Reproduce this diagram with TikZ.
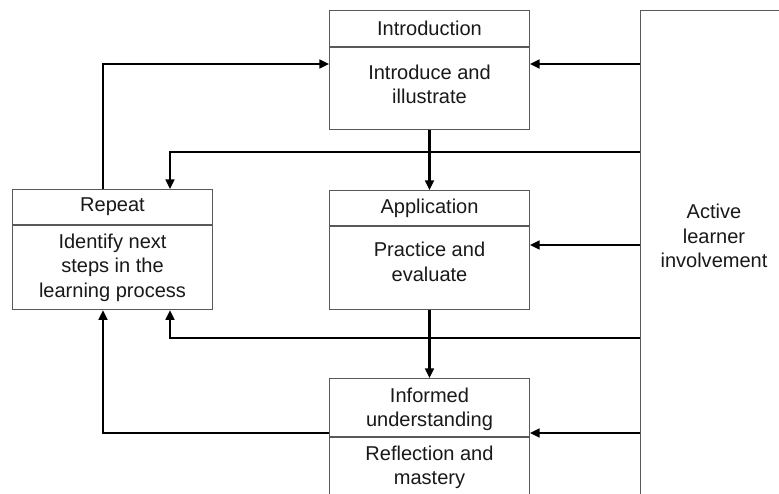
\documentclass[tikz,border=0pt]{standalone}
\usepackage{fontspec}
\setmainfont{Liberation Sans}
\usetikzlibrary{positioning,arrows.meta}

\tikzset{
  box/.style={draw=black!65, line width=0.6pt, anchor=north west, minimum width=4cm,
    inner sep=0pt, align=center, text=black!90,
    font=\fontsize{11.4}{13.9}\selectfont},
  arr/.style={line width=1.2pt, -{Triangle[length=5.5pt,width=5pt]}},
  lin/.style={line width=1.2pt}
}

\begin{document}
\begin{tikzpicture}[x=0.02cm, y=-0.02cm]

  % Frame (pixel grid of the picture)
  \clip (0,0) rectangle (779,494);
  \fill[white] (0,0) rectangle (779,494);

  % Middle column
  \node[box, minimum height=0.72cm] (introHead) at (329,10) {Introduction};
  \node[box, minimum height=1.64cm, text depth=5pt, below=0pt of introHead] (introBody) {Introduce and\\illustrate};

  \node[box, minimum height=0.7cm] (applHead) at (329,190) {Application};
  \node[box, minimum height=1.66cm, text depth=7pt, below=0pt of applHead] (applBody) {Practice and\\evaluate};

  \node[box, minimum height=1.16cm, text depth=0pt] (infoHead) at (329,378) {Informed\\understanding};
  \node[box, minimum height=1.2cm, below=0pt of infoHead] (infoBody) {Reflection and\\mastery};

  % Left box
  \node[box, minimum height=0.7cm] (repHead) at (12,189) {Repeat};
  \node[box, minimum height=1.68cm, below=0pt of repHead] (repBody) {Identify next\\steps in the\\learning process};

  % Right column
  \node[box, minimum width=2.96cm, minimum height=10cm] (active) at (640,10) {};
  \node[box, draw=none, anchor=center, minimum width=0cm] (activeText) at (714,236) {Active\\learner\\involvement};

  % Rows and columns of the connectors
  \coordinate (rowA) at (0,64);
  \coordinate (rowB) at (0,152);
  \coordinate (rowC) at (0,245);
  \coordinate (rowD) at (0,338);
  \coordinate (rowE) at (0,433);
  \coordinate (colL) at (103,0);
  \coordinate (colR) at (170,0);

  % Main flow
  \draw[arr] (introBody.south) -- (applHead.north);
  \draw[arr] (applBody.south) -- (infoHead.north);

  % From the learner
  \draw[arr] (active.west |- rowA) -- (introBody.east |- rowA);
  \draw[arr] (active.west |- rowC) -- (applBody.east |- rowC);
  \draw[arr] (active.west |- rowE) -- (infoBody.east |- rowE);
  \draw[arr] (active.west |- rowB) -- (colR |- rowB) -- (repHead.north -| colR);
  \draw[arr] (active.west |- rowD) -- (colR |- rowD) -- (repBody.south -| colR);

  % Loop back
  \draw[arr] (repHead.north -| colL) -- (colL |- rowA) -- (introBody.west |- rowA);
  \draw[arr] (infoHead.west |- rowE) -- (colL |- rowE) -- (repBody.south -| colL);

\end{tikzpicture}
\end{document}
